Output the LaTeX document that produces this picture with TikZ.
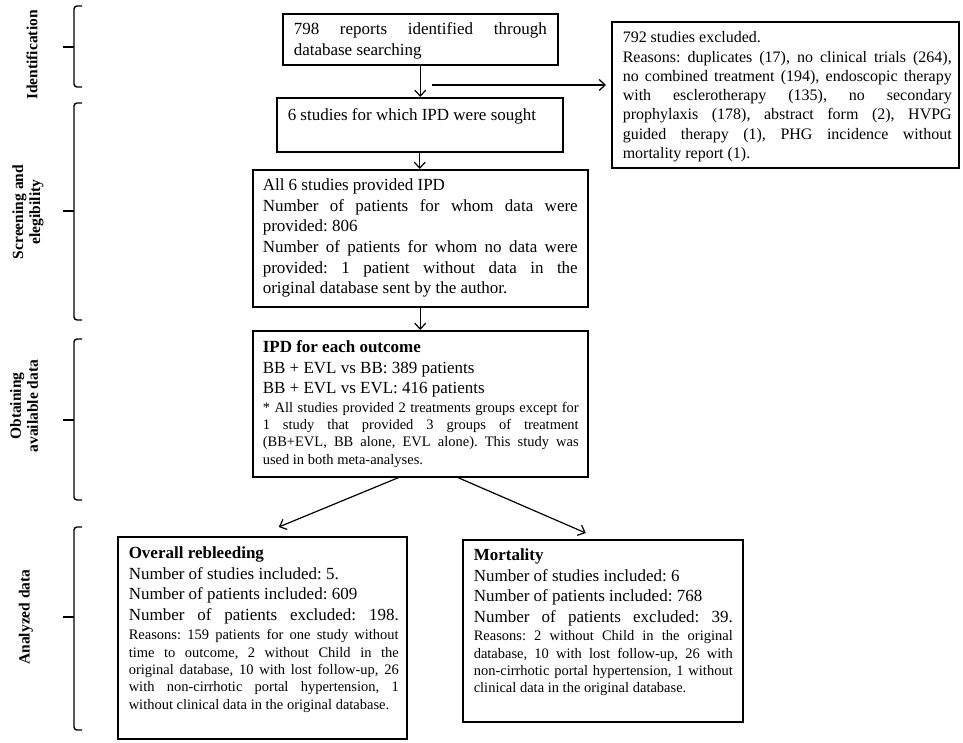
\documentclass[tikz,border=0pt]{standalone}
\usepackage{fontspec}
\setmainfont{Liberation Serif}
\usetikzlibrary{arrows.meta}
\frenchspacing
\newcommand\bxt[6]{\parbox[c][#2][t]{#1}{\parindent=0pt\leftskip=#4\rightskip=#5\relax
 \hyphenpenalty=10000 \exhyphenpenalty=10000 \tolerance=10000 \emergencystretch=0pt
 \vspace*{\dimexpr#3-\ht\strutbox\relax}\strut#6\par}}
\newcommand\smtxt{\fontsize{14.5}{17.3}\selectfont}
\begin{document}
\begin{tikzpicture}[x=1pt,y=-1pt,
 bx/.style={draw, line width=1.5pt, inner sep=0pt, anchor=north west, font=\fontsize{17}{20.6}\selectfont},
 arr/.style={line width=1.2pt, -{Straight Barb[length=6pt,width=11pt]}},
 brk/.style={line width=1.4pt, rounded corners=3pt},
 lab/.style={rotate=90, font=\bfseries\fontsize{15.5}{17}\selectfont, align=center, inner sep=0pt}]
\useasboundingbox (0,0) rectangle (963,742);

% boxes
\node[bx] (b1) at (282,13) {\bxt{275pt}{51pt}{21pt}{11pt}{11pt}{798 reports identified through\linebreak database searching}};
\node[bx] (b2) at (276,97) {\bxt{286pt}{54pt}{23pt}{11pt}{11pt}{6 studies for which IPD were sought}};
\node[bx, font=\fontsize{16}{19.3}\selectfont] (ex) at (611,21) {\bxt{347pt}{146pt}{21pt}{11pt}{7pt}{792 studies excluded.\par
Reasons: duplicates (17), no clinical trials (264),\linebreak no combined treatment (194), endoscopic therapy\linebreak with esclerotherapy (135), no secondary\linebreak prophylaxis (178), abstract form (2), HVPG\linebreak guided therapy (1), PHG incidence without\linebreak mortality report (1).}};
\node[bx] (b3) at (252,169) {\bxt{335pt}{137pt}{21pt}{10pt}{10pt}{All 6 studies provided IPD\par
Number of patients for whom data were\linebreak provided: 806\par
Number of patients for whom no data were\linebreak provided: 1 patient without data in the\linebreak original database sent by the author.}};
\node[bx] (b4) at (252,330) {\bxt{335pt}{146pt}{22pt}{10pt}{9pt}{\textbf{IPD for each outcome}\par
BB + EVL vs BB: 389 patients\par
BB + EVL vs EVL: 416 patients\par
{\smtxt\vspace{1pt}* All studies provided 2 treatments groups except for\linebreak 1 study that provided 3 groups of treatment\linebreak (BB+EVL, BB alone, EVL alone). This study was\linebreak used in both meta-analyses.\par}}};
\node[bx] (ob) at (117,536) {\bxt{289pt}{202pt}{22pt}{11pt}{8pt}{\textbf{Overall rebleeding}\par
Number of studies included: 5.\par
Number of patients included: 609\par
{\parfillskip=0pt Number of patients excluded: 198.\par}
{\smtxt\vspace{2pt}Reasons: 159 patients for one study without\linebreak time to outcome, 2 without Child in the\linebreak original database, 10 with lost follow-up, 26\linebreak with non-cirrhotic portal hypertension, 1\linebreak without clinical data in the original database.\par}}};
\node[bx] (mo) at (462,539) {\bxt{280pt}{182pt}{21pt}{11pt}{10pt}{\textbf{Mortality}\par
Number of studies included: 6\par
Number of patients included: 768\par
{\parfillskip=0pt Number of patients excluded: 39.\par}
{\smtxt\vspace{1pt}Reasons: 2 without Child in the original\linebreak database, 10 with lost follow-up, 26 with\linebreak non-cirrhotic portal hypertension, 1 without\linebreak clinical data in the original database.\par}}};

% connectors
\coordinate (hs) at (432,85);
\draw[arr] (b1.south) -- (b1.south |- b2.north);
\draw[arr, shorten >=5pt] (hs) -- (ex.west |- hs);
\draw[arr] (b2.south) -- (b2.south |- b3.north);
\draw[arr] (b3.south) -- (b4.north);
\draw[arr] ([xshift=-21.5pt]b4.south) -- ([xshift=16.5pt,yshift=9pt]ob.north);
\draw[arr] ([xshift=37.5pt]b4.south) -- ([xshift=-17pt,yshift=6pt]mo.north);

% brackets
\draw[brk] (82,6) -- (74,6) -- (74,87) -- (82,87);
\draw[brk] (74,47) -- (63,47);
\draw[brk] (82,103) -- (74,103) -- (74,320) -- (82,320);
\draw[brk] (74,211) -- (63,211);
\draw[brk] (82,339) -- (74,339) -- (74,500) -- (82,500);
\draw[brk] (74,420) -- (63,420);
\draw[brk] (82,527) -- (74,527) -- (74,730) -- (82,730);
\draw[brk] (74,617) -- (63,617);

% labels
\node[lab] (l1) at (32,55) {Identification};
\node[lab] (l2) at (28,212) {Screening and\\elegibility};
\node[lab] (l3) at (24,406) {Obtaining\\available data};
\node[lab] (l4) at (26,617) {Analyzed data};
\end{tikzpicture}
\end{document}
